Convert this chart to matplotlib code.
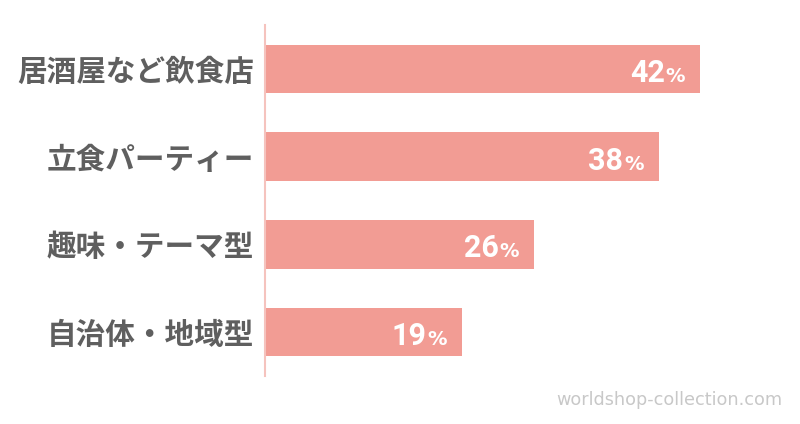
import matplotlib
matplotlib.use('Agg')
import matplotlib.pyplot as plt

plt.rcParams['font.family'] = ['Noto Sans CJK JP', 'DejaVu Sans']

categories = ['居酒屋など飲食店', '立食パーティー', '趣味・テーマ型', '自治体・地域型']
values = [42, 38, 26, 19]

BAR = '#f29c94'
AXIS = '#f5c3be'
TEXT = '#5f5f5f'

fig = plt.figure(figsize=(8, 4.24), dpi=100)
ax = fig.add_axes([265 / 800, 48 / 424, 515 / 800, 351 / 424])

y = list(range(len(categories)))
ax.barh(y, values, height=0.55, color=BAR)
ax.set_xlim(0, 515 / 10.36)
ax.set_ylim(3.5, -0.5)

for s in ['top', 'right', 'bottom']:
    ax.spines[s].set_visible(False)
ax.spines['left'].set_color(AXIS)
ax.spines['left'].set_linewidth(1.5)
ax.set_xticks([])
ax.set_yticks(y)
ax.set_yticklabels(categories, fontsize=21.3, fontweight='bold', color=TEXT)
ax.tick_params(axis='y', length=0, pad=8)

fig.canvas.draw()
renderer = fig.canvas.get_renderer()

for yi, v in zip(y, values):
    pct = ax.annotate('%', xy=(v, yi), xytext=(-15, -13), textcoords='offset pixels',
                      ha='right', va='baseline', color='white', fontsize=14,
                      fontweight='bold', family='DejaVu Sans')
    w = pct.get_window_extent(renderer).width
    ax.annotate(str(v), xy=(v, yi), xytext=(-15 - w - 1, -13), textcoords='offset pixels',
                ha='right', va='baseline', color='white', fontsize=22,
                fontweight='bold', family='Roboto')

fig.text(782 / 800, 1 - 400 / 424, 'worldshop-collection.com', ha='right', va='center',
         color='#c8c8c8', fontsize=12.7, family='DejaVu Sans')

fig.savefig('out.png', dpi=100)
